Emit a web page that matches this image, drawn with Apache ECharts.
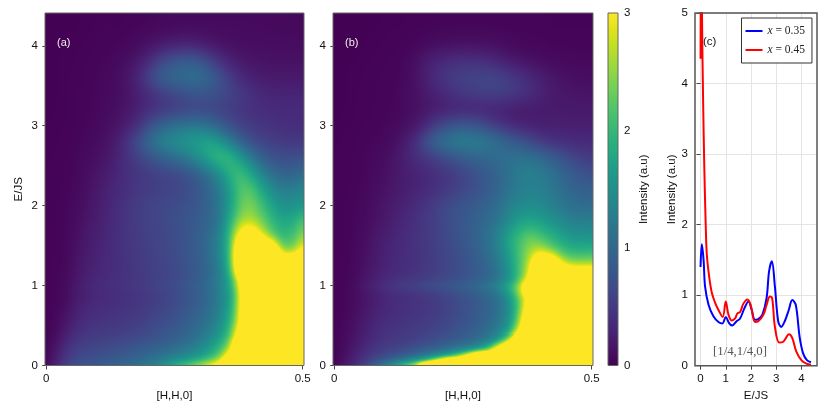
<!DOCTYPE html>
<html>
<head>
<meta charset="utf-8">
<style>html,body{margin:0;padding:0;background:#fff}#c{width:830px;height:415px}</style>
<script src="https://cdn.jsdelivr.net/npm/echarts@6/dist/echarts.min.js"></script>
</head>
<body>
<div id="c"></div>
<script>
const hValues = [0,.02,.04,.06,.08,.1,.12,.14,.16,.18,.2,.22,.24,.26,.28,.3,.32,.34,.36,.38,.4,.42,.44,.46,.48,.5];
const energies = [0,.05,.1,.2,.3,.4,.6,.8,.92,1,1.08,1.2,1.4,1.6,1.8,2,2.2,2.4,2.6,2.8,3,3.2,3.4,3.6,3.8,4,4.2,4.4];
const heatA = [
[.05,.3,.6,.72,.78,.82,.88,.95,1.02,1.12,1.25,1.42,1.75,2,2.3,2.6,3,3.6,6,6,6,6,6,6,6,6],
[.05,.28,.55,.68,.74,.78,.84,.9,.98,1.06,1.18,1.32,1.55,1.75,2,2.25,2.6,3.1,5.5,6,6,6,6,6,6,6],
[.04,.25,.5,.64,.7,.74,.78,.84,.9,.98,1.06,1.15,1.27,1.4,1.55,1.75,2.05,2.5,4,6,6,6,6,6,6,6],
[.03,.2,.42,.56,.62,.66,.7,.74,.8,.86,.92,1,1.08,1.18,1.3,1.45,1.7,2.1,2.9,6,6,6,6,6,6,6],
[.03,.14,.34,.48,.55,.58,.6,.64,.68,.72,.78,.85,.92,1,1.12,1.28,1.5,1.85,2.5,5,6,6,6,6,6,6],
[.02,.1,.26,.4,.47,.5,.52,.55,.58,.62,.68,.75,.82,.9,1,1.14,1.32,1.6,2.2,3.6,6,6,6,6,6,6],
[.02,.05,.16,.3,.38,.42,.43,.45,.48,.52,.58,.63,.7,.78,.88,1,1.16,1.4,1.9,3.1,6,6,6,6,6,6],
[.02,.04,.1,.22,.3,.35,.38,.4,.42,.46,.5,.56,.62,.7,.8,.92,1.06,1.3,1.75,3,6,6,6,6,6,6],
[.02,.04,.09,.2,.28,.33,.37,.4,.43,.47,.52,.57,.63,.7,.8,.92,1.06,1.3,1.75,3,6,6,6,6,6,6],
[.02,.04,.09,.2,.3,.36,.4,.43,.46,.5,.55,.6,.66,.73,.83,.95,1.1,1.35,1.85,3.2,6,6,6,6,6,6],
[.02,.04,.08,.18,.27,.33,.37,.41,.44,.48,.53,.58,.63,.7,.79,.9,1.06,1.3,1.85,3.4,6,6,6,6,6,6],
[.02,.03,.07,.16,.25,.31,.36,.4,.44,.5,.55,.58,.62,.68,.76,.88,1.04,1.32,2.1,4.5,6,6,6,6,6,6],
[.02,.03,.06,.14,.22,.29,.34,.4,.45,.5,.55,.6,.65,.72,.8,.92,1.1,1.4,2.2,5,6,6,5,2.6,2.5,3.4],
[.02,.03,.05,.12,.2,.27,.33,.4,.46,.52,.58,.62,.66,.72,.8,.92,1.1,1.4,2.2,3.6,4,3,2.3,2,2.1,2.5],
[.02,.03,.05,.1,.17,.24,.32,.4,.47,.53,.58,.62,.68,.74,.8,.88,1,1.25,1.95,2.55,2.65,2.35,2,1.8,1.85,2.2],
[.02,.03,.04,.08,.14,.22,.3,.38,.46,.54,.6,.64,.66,.7,.76,.85,1,1.22,1.7,2.3,2.4,2.1,1.75,1.5,1.5,1.6],
[.02,.02,.04,.07,.12,.2,.28,.35,.42,.48,.52,.56,.6,.64,.7,.82,1,1.25,1.7,2.2,2.2,1.8,1.45,1.28,1.3,1.4],
[.02,.02,.03,.06,.1,.16,.24,.32,.4,.46,.52,.56,.6,.66,.76,.92,1.15,1.5,1.95,2.1,1.75,1.35,1.08,.95,.95,1.05],
[.02,.02,.03,.05,.08,.12,.18,.3,.44,.56,.72,.85,.98,1.12,1.3,1.55,1.85,2.1,2,1.6,1.2,.92,.75,.7,.7,.75],
[.01,.02,.02,.04,.06,.09,.14,.26,.48,.75,1.05,1.3,1.45,1.55,1.65,1.75,1.8,1.55,1.22,.9,.7,.6,.55,.5,.48,.48],
[.01,.02,.02,.03,.05,.07,.11,.16,.26,.42,.7,.92,1.05,1.15,1.2,1.18,1.05,.88,.7,.58,.5,.45,.42,.4,.38,.38],
[.01,.01,.02,.03,.04,.06,.08,.12,.18,.28,.36,.44,.5,.55,.6,.62,.6,.55,.5,.45,.4,.38,.36,.35,.35,.35],
[.01,.01,.02,.03,.04,.05,.07,.1,.15,.24,.36,.48,.58,.66,.72,.76,.74,.68,.6,.5,.42,.35,.3,.3,.3,.3],
[.01,.01,.02,.02,.03,.05,.07,.1,.18,.36,.6,.86,.98,1.05,1.1,1.08,.95,.75,.52,.35,.26,.22,.2,.2,.2,.2],
[.01,.01,.02,.02,.03,.04,.05,.07,.12,.2,.38,.6,.78,.88,.9,.82,.62,.42,.28,.2,.16,.14,.13,.13,.13,.13],
[.01,.01,.01,.02,.02,.03,.04,.05,.06,.09,.14,.2,.26,.3,.3,.26,.2,.15,.12,.1,.1,.1,.1,.1,.09,.09],
[.01,.01,.01,.01,.02,.02,.03,.03,.04,.05,.06,.07,.08,.09,.09,.09,.08,.08,.08,.08,.08,.08,.07,.07,.07,.07],
[.01,.01,.01,.01,.01,.02,.02,.02,.03,.03,.04,.05,.05,.06,.06,.06,.07,.07,.07,.07,.07,.06,.06,.06,.05,.05]
];
const heatB = [
[.03,.15,.35,.6,.95,1.35,1.8,2.3,2.9,6,6,6,6,6,6,6,6,6,6,6,6,6,6,6,6,6],
[.03,.14,.32,.52,.78,1.05,1.35,1.7,2.15,2.7,4,6,6,6,6,6,6,6,6,6,6,6,6,6,6,6],
[.02,.12,.28,.45,.6,.72,.85,1,1.2,1.45,1.75,2.1,2.7,4,6,6,6,6,6,6,6,6,6,6,6,6],
[.02,.1,.22,.36,.48,.56,.62,.7,.8,.9,1.02,1.15,1.3,1.45,1.7,2.2,4,6,6,6,6,6,6,6,6,6],
[.02,.08,.18,.3,.4,.48,.52,.56,.62,.68,.76,.84,.94,1.04,1.18,1.4,1.9,3,6,6,6,6,6,6,6,6],
[.02,.07,.15,.26,.36,.43,.47,.5,.54,.58,.64,.7,.78,.86,.96,1.1,1.3,1.8,3,6,6,6,6,6,6,6],
[.02,.05,.12,.2,.3,.36,.4,.43,.46,.5,.54,.6,.68,.76,.86,.98,1.14,1.5,2.4,4.5,6,6,6,6,6,6],
[.02,.04,.09,.16,.24,.32,.37,.4,.42,.46,.52,.58,.66,.74,.84,.95,1.1,1.45,2.2,3.3,6,6,6,6,6,6],
[.02,.04,.09,.17,.26,.34,.4,.43,.47,.52,.58,.65,.73,.82,.92,1.05,1.25,1.7,2.6,4,6,6,6,6,6,6],
[.02,.04,.1,.2,.32,.42,.5,.56,.62,.68,.74,.8,.88,.96,1.06,1.2,1.45,1.85,2.6,4.5,6,6,6,6,6,6],
[.02,.03,.08,.16,.26,.34,.4,.44,.48,.54,.6,.66,.72,.8,.9,1,1.2,1.55,2.2,3.2,6,6,6,6,6,6],
[.02,.03,.07,.14,.22,.3,.35,.4,.44,.5,.56,.62,.68,.76,.86,.98,1.18,1.55,2.1,2.9,6,6,3.6,3,2.95,2.95],
[.02,.03,.06,.12,.2,.28,.34,.38,.42,.48,.55,.62,.7,.8,.92,1.08,1.3,1.7,2.15,2.6,2.85,2.5,2.2,2,2,2.05],
[.02,.03,.05,.1,.18,.25,.32,.38,.44,.5,.58,.66,.75,.85,.98,1.15,1.4,1.8,2.1,2.35,2.15,1.95,1.75,1.6,1.55,1.55],
[.02,.03,.05,.08,.14,.2,.28,.35,.42,.5,.58,.68,.76,.85,.95,1.05,1.2,1.45,1.7,1.75,1.7,1.55,1.45,1.3,1.3,1.3],
[.02,.03,.04,.07,.12,.18,.24,.3,.38,.48,.58,.68,.75,.82,.9,.98,1.1,1.3,1.4,1.45,1.4,1.3,1.2,1.1,1.05,1.05],
[.02,.02,.04,.06,.1,.14,.2,.25,.3,.35,.42,.5,.58,.66,.75,.85,.98,1.15,1.25,1.3,1.3,1.2,1.08,.98,.92,.9],
[.02,.02,.03,.05,.08,.12,.18,.24,.28,.34,.4,.46,.55,.65,.75,.85,.98,1.12,1.25,1.3,1.25,1.15,1,.88,.78,.72],
[.02,.02,.03,.05,.07,.1,.17,.28,.38,.46,.56,.68,.78,.88,.95,1,1.05,1.1,1.15,1.12,1.05,.92,.78,.65,.55,.5],
[.02,.02,.03,.04,.05,.07,.12,.24,.45,.8,1.05,1.2,1.3,1.32,1.3,1.2,1.08,.92,.8,.65,.52,.42,.38,.36,.35,.35],
[.01,.02,.02,.03,.04,.05,.07,.12,.18,.35,.58,.72,.82,.82,.76,.62,.48,.36,.3,.27,.25,.25,.25,.25,.25,.25],
[.01,.01,.02,.02,.03,.04,.05,.08,.12,.17,.22,.25,.28,.28,.28,.26,.24,.22,.2,.2,.2,.2,.2,.2,.2,.2],
[.01,.01,.02,.02,.03,.03,.05,.09,.13,.2,.28,.36,.44,.5,.54,.56,.56,.52,.46,.38,.3,.23,.18,.16,.15,.15],
[.01,.01,.02,.02,.03,.03,.04,.07,.14,.28,.4,.5,.56,.6,.62,.64,.62,.54,.45,.35,.26,.19,.14,.12,.1,.1],
[.01,.01,.01,.02,.02,.03,.03,.06,.13,.24,.32,.38,.42,.44,.42,.38,.3,.22,.17,.13,.1,.08,.07,.07,.06,.06],
[.01,.01,.01,.01,.02,.02,.03,.03,.05,.08,.1,.12,.13,.13,.13,.12,.1,.08,.06,.05,.05,.04,.04,.04,.04,.04],
[.01,.01,.01,.01,.01,.02,.02,.02,.03,.03,.04,.04,.05,.05,.05,.05,.04,.04,.04,.04,.04,.03,.03,.03,.03,.03],
[.01,.01,.01,.01,.01,.01,.01,.02,.02,.02,.02,.03,.03,.03,.03,.03,.03,.03,.03,.03,.03,.02,.02,.02,.02,.02]
];
const lineE35 = [0,.05,.12,.18,.32,.51,.71,.87,1,1.14,1.25,1.43,1.57,1.74,1.9,2.03,2.16,2.29,2.45,2.62,2.72,2.83,2.95,3.08,3.2,3.34,3.5,3.64,3.78,3.93,4.07,4.22,4.38];
const lineI35 = [1.4,1.72,1.5,1.12,.86,.7,.62,.6,.69,.6,.57,.63,.67,.815,.91,.79,.65,.66,.72,.96,1.34,1.48,1.12,.63,.55,.63,.79,.93,.86,.41,.175,.08,.05];
const lineE45 = [0,.03,.06,.1,.15,.21,.25,.34,.45,.58,.71,.88,1,1.11,1.24,1.37,1.46,1.57,1.7,1.86,1.99,2.16,2.29,2.49,2.62,2.75,2.84,2.95,3.12,3.28,3.51,3.64,3.8,4,4.2,4.38];
const lineI45 = [4.35,6.5,4.9,3.8,2.8,1.93,1.57,1.27,1.03,.89,.79,.69,.91,.72,.64,.67,.74,.76,.88,.94,.86,.62,.63,.72,.86,.98,.96,.55,.33,.34,.445,.39,.2,.08,.03,.015];
const viridis = ['#440154','#481567','#482677','#453781','#404788','#39568c','#33638d','#2d708e','#287d8e','#238a8d','#1f968b','#20a387','#29af7f','#3cbb75','#55c667','#73d055','#95d840','#b8de29','#dce319','#fde725'];
const xTicks = [0, 0.5];
const yTicks = [0, 1, 2, 3, 4];
const cTicksX = [0, 1, 2, 3, 4];

const FONT = '"Liberation Sans", Arial, sans-serif';
const rgbStops = viridis.map(h => [1,3,5].map(i => parseInt(h.substr(i,2),16)));
function colorAt(v){
  const t = Math.max(0, Math.min(1, v/3)) * (rgbStops.length-1);
  const i = Math.min(rgbStops.length-2, Math.floor(t)), f = t-i;
  return rgbStops[i].map((c,k)=>Math.round(c+(rgbStops[i+1][k]-c)*f));
}
function locate(arr, v){
  let i = 0; while (i < arr.length-2 && arr[i+1] < v) i++;
  const f = Math.max(0, Math.min(1, (v-arr[i])/(arr[i+1]-arr[i])));
  return [i, f];
}
// soften the rendered image (display only): radius follows the local row spacing
function smoothField(src, w, h, rx, radiusOfRow){
  const tmp = new Float32Array(w*h), out = new Float32Array(w*h);
  for (let y=0;y<h;y++) for (let x=0;x<w;x++){ let s=0,n=0;
    for (let d=-rx;d<=rx;d++){ const q=Math.max(0,Math.min(w-1,x+d)); s+=src[y*w+q]; n++; }
    tmp[y*w+x]=s/n; }
  for (let y=0;y<h;y++){ const ry=radiusOfRow(y); for (let x=0;x<w;x++){ let s=0,n=0;
    for (let d=-ry;d<=ry;d++){ const q=Math.max(0,Math.min(h-1,y+d)); s+=tmp[q*w+x]; n++; }
    out[y*w+x]=s/n; } }
  return out;
}
function buildCanvas(table, w, h, xr, yr){
  let vals = new Float32Array(w*h);
  const pxPerE = h/(yr[1]-yr[0]);
  const radii = [];
  for (let py=0;py<h;py++){
    const e = yr[1]-(py+.5)/h*(yr[1]-yr[0]);
    const [r,fr] = locate(energies, e);
    radii.push(Math.max(1,Math.round((energies[r+1]-energies[r])*pxPerE*0.42)));
    for (let px=0;px<w;px++){
      const q = xr[0]+(px+.5)/w*(xr[1]-xr[0]);
      const [c,fc] = locate(hValues, q);
      const a = table[r][c]*(1-fc)+table[r][c+1]*fc;
      const b = table[r+1][c]*(1-fc)+table[r+1][c+1]*fc;
      vals[py*w+px] = a*(1-fr)+b*fr;
    }
  }
  const rr = y=>radii[y];
  vals = smoothField(smoothField(vals,w,h,4,rr),w,h,3,rr);
  const cv = document.createElement('canvas'); cv.width=w; cv.height=h;
  const ctx = cv.getContext('2d'), im = ctx.createImageData(w,h);
  for (let i=0;i<w*h;i++){ const rgb=colorAt(vals[i]); im.data[i*4]=rgb[0]; im.data[i*4+1]=rgb[1]; im.data[i*4+2]=rgb[2]; im.data[i*4+3]=255; }
  ctx.putImageData(im,0,0);
  return cv;
}
const XR = [-0.0025, 0.5025], YR = [0, 4.41];
function heatSeries(table, idx){
  const data = [];
  table.forEach((row,r)=>row.forEach((v,c)=>data.push([hValues[c],energies[r],v,c,r])));
  let cache = null;
  return {
    type:'custom', xAxisIndex:idx, yAxisIndex:idx, data, clip:true, silent:true, animation:false, z:1,
    encode:{x:0,y:1},
    renderItem(params, api){
      const cs = params.coordSys, x0=Math.round(cs.x), y0=Math.round(cs.y), w=Math.round(cs.width), h=Math.round(cs.height);
      if (!cache) cache = buildCanvas(table,w,h,XR,YR);
      const c=api.value(3), r=api.value(4), nc=hValues.length, nr=energies.length;
      const xl = c===0?XR[0]:(hValues[c-1]+hValues[c])/2, xh = c===nc-1?XR[1]:(hValues[c]+hValues[c+1])/2;
      const yl = r===0?YR[0]:(energies[r-1]+energies[r])/2, yh = r===nr-1?YR[1]:(energies[r]+energies[r+1])/2;
      const a = api.coord([xl,yh]), b = api.coord([xh,yl]);
      const ax=Math.round(a[0]), ay=Math.round(a[1]), bx=Math.round(b[0]), by=Math.round(b[1]);
      if (bx<=ax||by<=ay) return null;
      return {type:'image', style:{image:cache,x:ax,y:ay,width:bx-ax,height:by-ay,sx:ax-x0,sy:ay-y0,sWidth:bx-ax,sHeight:by-ay}};
    }
  };
}
const tickLine = {show:true,length:4,lineStyle:{color:'#444',width:1}};
const label = {color:'#111',fontFamily:FONT,fontSize:11.5};
const nameStyle = {color:'#111',fontFamily:FONT,fontSize:11.5};
const spine = {borderColor:'#666',borderWidth:1,show:true,z:5,backgroundColor:'transparent'};
function heatX(gi){return {type:'value',gridIndex:gi,min:XR[0],max:XR[1],name:'[H,H,0]',nameLocation:'middle',nameGap:24,nameTextStyle:nameStyle,
  axisLine:{show:false},splitLine:{show:false},axisTick:Object.assign({customValues:xTicks},tickLine),axisLabel:Object.assign({customValues:xTicks,margin:7,formatter:v=>String(v),hideOverlap:false},label)};}
function heatY(gi,name){return {type:'value',gridIndex:gi,min:YR[0],max:YR[1],name:name,nameLocation:'middle',nameGap:20,nameRotate:90,nameTextStyle:nameStyle,
  axisLine:{show:false},splitLine:{show:false},axisTick:Object.assign({customValues:yTicks},tickLine),axisLabel:Object.assign({customValues:yTicks,margin:7},label)};}
function panelText(t,x,y,color,font,size){return {type:'text',x,y,z:50,silent:true,style:{text:t,fill:color,font:`${size}px ${font}`,textVerticalAlign:'middle',verticalAlign:'middle'}};}

const pts35 = lineE35.map((e,i)=>[e,lineI35[i]]);
const pts45 = lineE45.map((e,i)=>[e,lineI45[i]]);
const option = {
  animation:false,
  backgroundColor:'#fff',
  grid:[
    Object.assign({left:45,top:13,width:259,height:352.5},spine),
    Object.assign({left:333,top:13,width:260,height:352.5},spine),
    Object.assign({left:608,top:13,width:10,height:352.5},spine),
    Object.assign({left:695,top:13,width:122,height:352.7},spine,{borderColor:'#555',borderWidth:1.5})
  ],
  xAxis:[
    heatX(0),heatX(1),
    {type:'value',gridIndex:2,min:0,max:1,show:false},
    {type:'value',gridIndex:3,min:-0.22,max:4.62,name:'E/JS',nameLocation:'middle',nameGap:24,nameTextStyle:nameStyle,
     axisLine:{show:false},axisTick:Object.assign({customValues:cTicksX},tickLine),axisLabel:Object.assign({customValues:cTicksX,margin:7},label),
     splitLine:{show:true,lineStyle:{color:'#e4e4e4',width:1}}}
  ],
  yAxis:[
    heatY(0,'E/JS'),heatY(1,''),
    {type:'value',gridIndex:2,position:'right',min:0,max:3,interval:1,name:'Intensity (a.u)',nameLocation:'middle',nameGap:20,nameRotate:90,nameTextStyle:nameStyle,
     axisLine:{show:false},splitLine:{show:false},axisTick:Object.assign({},tickLine),axisLabel:Object.assign({margin:6},label)},
    {type:'value',gridIndex:3,min:0,max:5,interval:1,name:'Intensity (a.u)',nameLocation:'middle',nameGap:17,nameRotate:90,nameTextStyle:nameStyle,
     axisLine:{show:false},axisTick:Object.assign({},tickLine),axisLabel:Object.assign({margin:7},label),
     splitLine:{show:true,lineStyle:{color:'#e4e4e4',width:1}}}
  ],
  legend:{
    show:true,orient:'vertical',left:741.5,top:18,itemWidth:17,itemHeight:2,itemGap:7,icon:'rect',
    backgroundColor:'#fff',borderColor:'#333',borderWidth:1,padding:[7,7,7,4],
    data:['x = 0.35','x = 0.45'],
    formatter:n=>`{i|x} = ${n.split('= ')[1]}`,
    textStyle:{fontFamily:'"Liberation Serif", serif',fontSize:11.5,color:'#222',rich:{i:{fontFamily:'"Liberation Serif", serif',fontStyle:'italic',fontSize:11.5,color:'#222'}}}
  },
  series:[
    heatSeries(heatA,0),
    heatSeries(heatB,1),
    {type:'custom',xAxisIndex:2,yAxisIndex:2,data:[[0,0,1,3]],silent:true,z:1,encode:{x:[0,2],y:[1,3]},
     renderItem(params,api){
       const a=api.coord([api.value(0),api.value(3)]), b=api.coord([api.value(2),api.value(1)]);
       const stops=viridis.map((c,i)=>({offset:i/(viridis.length-1),color:c}));
       return {type:'rect',shape:{x:a[0],y:a[1],width:b[0]-a[0],height:b[1]-a[1]},
         style:{fill:new echarts.graphic.LinearGradient(0,1,0,0,stops)}};
     }},
    {name:'x = 0.35',type:'line',xAxisIndex:3,yAxisIndex:3,data:pts35,smooth:0.35,showSymbol:false,symbol:'none',lineStyle:{color:'#0000ff',width:2},itemStyle:{color:'#0000ff'},z:3},
    {name:'x = 0.45',type:'line',xAxisIndex:3,yAxisIndex:3,data:pts45,smooth:0.35,showSymbol:false,symbol:'none',lineStyle:{color:'#ff0000',width:2},itemStyle:{color:'#ff0000'},z:4}
  ],
  graphic:[
    panelText('(a)',57,43,'#eee',FONT,11),
    panelText('(b)',345,43,'#eee',FONT,11),
    panelText('(c)',703,42,'#111',FONT,11.5),
    panelText('[1/4,1/4,0]',713,352,'#555','"Liberation Serif", serif',12.8)
  ]
};
const chart = echarts.init(document.getElementById('c'),null,{renderer:'canvas'});
chart.setOption(option);
</script>
</body>
</html>
